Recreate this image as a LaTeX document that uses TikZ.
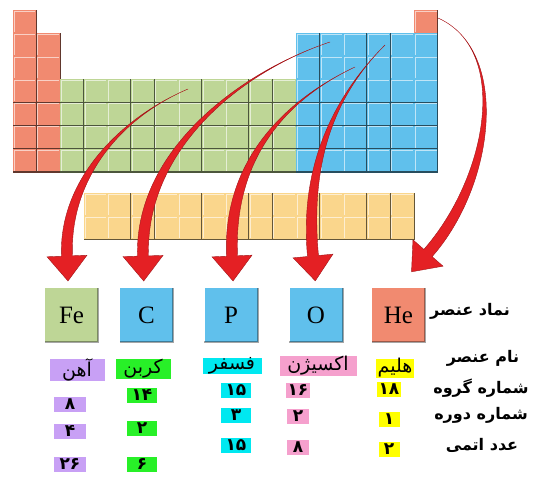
\documentclass[tikz,border=0pt]{standalone}
\usepackage{fontspec}
\setmainfont{Liberation Serif}
\newfontfamily\arabicfont[Script=Arabic]{DejaVu Sans}
\TeXXeTstate=1
\usepackage{tikz}
\usetikzlibrary{calc, positioning}
\definecolor{PTSalmon}{RGB}{241,138,112}
\definecolor{PTGreen}{RGB}{190,214,150}
\definecolor{PTBlue}{RGB}{96,192,236}
\definecolor{PTYellow}{RGB}{250,214,140}
\definecolor{PTRed}{RGB}{228,32,36}
\definecolor{HLPurple}{RGB}{200,160,245}
\definecolor{HLGreen}{RGB}{40,240,40}
\definecolor{HLCyan}{RGB}{0,232,240}
\definecolor{HLPink}{RGB}{245,160,205}
\definecolor{HLYellow}{RGB}{255,255,0}

% one square of the table: column, top edge, colour
\newcommand{\ptcell}[3]{%
  \pgfmathsetmacro{\cx}{13+(#1-1)*23.6}
  \pgfmathsetmacro{\cy}{#2}
  \fill[#3] (\cx,\cy) rectangle ++(23.6,23.15);
  \draw[white, opacity=0.6, line width=0.6] (\cx+1,\cy+22) -- (\cx+1,\cy+1) -- (\cx+22.4,\cy+1);
  \draw[#3!40!black, line width=1.3] (\cx+23.6,\cy) -- ++(0,23.15) -- (\cx,\cy+23.15);
}
% bent red arrow: start, handles and end of shaft are named <n>S, <n>A, <n>B, <n>E
\newcommand{\bentarrow}[2]{%
  \fill[#2] (#1S) .. controls (#1A) and ($(#1B)!5.5pt!-90:(#1E)$) .. ($(#1E)!5.5pt!90:(#1B)$)
    -- ($(#1E)!20pt!90:(#1B)$) -- ($(#1E)!-25pt!(#1B)$) -- ($(#1E)!20pt!-90:(#1B)$)
    -- ($(#1E)!5.5pt!-90:(#1B)$) .. controls ($(#1B)!5.5pt!90:(#1E)$) and (#1A) .. (#1S) -- cycle;
}

\begin{document}
\begin{tikzpicture}[x=1pt, y=-1pt,
    elem/.style={rectangle, minimum width=53, minimum height=54, inner sep=0pt,
                 font=\fontsize{25}{25}\selectfont},
    pointer/.style={fill=PTRed, draw=PTRed!70!black, line width=0.4},
    rowlabel/.style={font=\arabicfont\bfseries\fontsize{16}{18}\selectfont, inner sep=0pt},
    hlname/.style={font=\arabicfont\fontsize{19}{21}\selectfont, inner xsep=2pt, inner ysep=0pt},
    hlnum/.style={font=\arabicfont\bfseries\fontsize{17}{18}\selectfont, inner xsep=2pt,
                  inner ysep=0.5pt, minimum height=15}
  ]
  \useasboundingbox (0,0) rectangle (533,477);

  % the periodic table
  \foreach \r in {1,...,7} {\ptcell{1}{10+(\r-1)*23.15}{PTSalmon}}
  \foreach \r in {2,...,7} {\ptcell{2}{10+(\r-1)*23.15}{PTSalmon}}
  \ptcell{18}{10}{PTSalmon}
  \foreach \c in {3,...,12}
    \foreach \r in {4,...,7} {\ptcell{\c}{10+(\r-1)*23.15}{PTGreen}}
  \foreach \c in {13,...,18}
    \foreach \r in {2,...,7} {\ptcell{\c}{10+(\r-1)*23.15}{PTBlue}}
  \foreach \c in {4,...,17}
    \foreach \r in {1,2} {\ptcell{\c}{193+(\r-1)*23.15}{PTYellow}}

  % symbol boxes
  \node[elem, fill=PTGreen]  (fe) at (71.5,315) {Fe};
  \node[elem, fill=PTBlue]   (c)  at (146.5,315) {C};
  \node[elem, fill=PTBlue]   (p)  at (231,315) {P};
  \node[elem, fill=PTBlue]   (o)  at (316,315) {O};
  \node[elem, fill=PTSalmon] (he) at (398.5,315) {He};
  \foreach \n in {fe,c,p,o,he}
    \draw[black, opacity=0.35, line width=2] (\n.south west) -- (\n.south east) -- (\n.north east);

  % arrows from the table to the boxes
  \coordinate (feS) at (188,89);  \coordinate (feA) at (120,118); \coordinate (feB) at (64,180);
  \coordinate (feE) at (67,256);
  \coordinate (cS) at (330,42);   \coordinate (cA) at (240,72);   \coordinate (cB) at (140,150);
  \coordinate (cE) at (143,256);
  \coordinate (pS) at (355,67);   \coordinate (pA) at (285,100);  \coordinate (pB) at (228,160);
  \coordinate (pE) at (232,256);
  \coordinate (oS) at (385,45);   \coordinate (oA) at (330,100);  \coordinate (oB) at (305,170);
  \coordinate (oE) at (313,256);
  \coordinate (heS) at (438,18);  \coordinate (heA) at (510,50);  \coordinate (heB) at (492,180);
  \coordinate (heE) at (428,253);
  \foreach \n in {fe,c,p,o,he} {\bentarrow{\n}{pointer}}

  % row labels
  \node[rowlabel] (lsym)    at (470,311) {\beginR نماد عنصر\endR};
  \node[rowlabel] (lname)   at (483,358) {\beginR نام عنصر\endR};
  \node[rowlabel] (lgroup)  at (481,388) {\beginR شماره گروه\endR};
  \node[rowlabel] (lperiod) at (481,415) {\beginR شماره دوره\endR};
  \node[rowlabel] (latomic) at (482,445) {\beginR عدد اتمی\endR};

  % names
  \node[hlname, fill=HLPurple, minimum width=55] (feName) at (77,370) {\beginR آهن\endR};
  \node[hlname, fill=HLGreen,  minimum width=55] (cName)  at (143,369) {\beginR کربن\endR};
  \node[hlname, fill=HLCyan,   minimum width=59] (pName)  at (232,366) {\beginR فسفر\endR};
  \node[hlname, fill=HLPink,   minimum width=77] (oName)  at (318,366) {\beginR اکسیژن\endR};
  \node[hlname, fill=HLYellow, minimum width=30] (heName) at (395,368) {\beginR هلیم\endR};

  % group, period and atomic number
  \foreach \n/\x/\w/\col/\g/\gy/\pd/\py/\z/\zy in {
      fe/70/32/HLPurple/۸/404/۴/431/۲۶/464,
      c/142/30/HLGreen/۱۴/395/۲/428/۶/464,
      p/236/30/HLCyan/۱۵/390/۳/415/۱۵/445,
      o/298/22/HLPink/۱۶/390/۲/416/۸/447,
      he/389/21/HLYellow/۱۸/389/۱/419/۲/449} {
    \node[hlnum, fill=\col, minimum width=\w] (\n Group)  at (\x,\gy) {\g};
    \node[hlnum, fill=\col, minimum width=\w] (\n Period) at (\x,\py) {\pd};
    \node[hlnum, fill=\col, minimum width=\w] (\n Atomic) at (\x,\zy) {\z};
  }
\end{tikzpicture}
\end{document}
